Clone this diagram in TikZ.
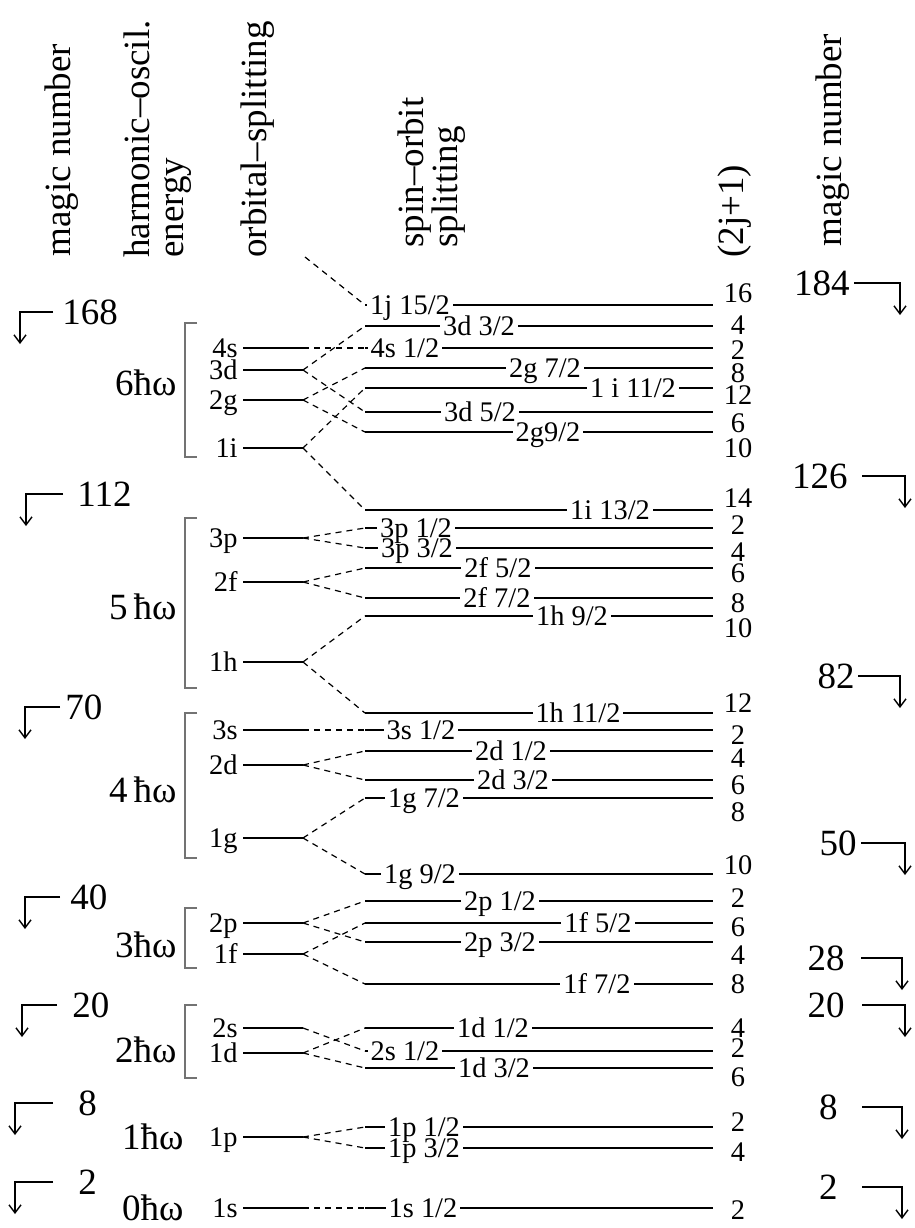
\documentclass[tikz,border=0pt]{standalone}
\usepackage{fontspec}
\setmainfont{Liberation Serif}
\usetikzlibrary{arrows.meta}

\begin{document}
\begin{tikzpicture}[x=0.5pt, y=-0.5pt, >={Straight Barb[length=4pt,width=6pt]},
    big/.style={font=\fontsize{18.5}{17}\selectfont, inner sep=0pt},
    small/.style={font=\fontsize{14.2}{16}\selectfont, inner sep=0pt},
    head/.style={big, rotate=90, anchor=west, align=left},
    lab/.style={small, fill=white, inner xsep=1.5pt, inner ysep=0pt, text depth=0pt, anchor=base, yshift=-4.7pt},
    level/.style={line width=0.9pt},
    split/.style={line width=0.6pt, dash pattern=on 3pt off 2.5pt},
    brack/.style={draw=black!55, line width=1pt},
    marrow/.style={->, line width=0.7pt}]
  \fill[white] (0,0) rectangle (915,1228);
  \useasboundingbox (0,0) rectangle (915,1228);
  % ================================================================ column heads
  \node[head] (hMagicL) at (62,257) {magic number};
  \node[head] (hOsc) at (158,258) {harmonic--oscil.\\energy};
  \node[head] (hOrb) at (258,258) {orbital--splitting};
  \node[head] (hSpin) at (432,248) {spin--orbit\\splitting};
  \node[head] (hDeg) at (735,258) {(2j+1)};
  \node[head] (hMagicR) at (833,247) {magic number};
  % ================================================================ oscillator shells
  \foreach \sh/\sy/\a/\b in {6ħω/383/323/457, 5\,ħω/607/518/688, 4\,ħω/790/713/858, 3ħω/945/908/968, 2ħω/1050/1005/1078} {
    \node[big, anchor=east] at (177,\sy) {\sh};
    \draw[brack] (197,\a) -- (185,\a) -- (185,\b) -- (197,\b);
  }
  \node[big, anchor=east] (sh1) at (184,1137) {1ħω};
  \node[big, anchor=east] (sh0) at (184,1208) {0ħω};
  % ================================================================ orbital levels
  \foreach \o/\oy in {4s/348, 3d/370, 2g/400, 1i/448, 3p/538, 2f/582, 1h/662, 3s/730, 2d/765, 1g/838,
                      2p/923, 1f/954, 2s/1028, 1d/1053, 1p/1137, 1s/1208} {
    \node[small, anchor=base east, yshift=-4.7pt] (t\o) at (238,\oy) {\o};
    \draw[level] (243,\oy) -- (303,\oy) coordinate (o\o);
  }
  \coordinate (o1j) at (305,257);
  % ================================================================ spin-orbit levels
  \foreach \lv/\ly/\lx/\lab/\dg/\dy in {
      1j15/305/410/{1j 15/2}/16/293, 3d3/326/479/{3d 3/2}/4/325, 4s1/348/405/{4s 1/2}/2/350,
      2g7/368/545/{2g 7/2}/8/373, 1i11/388/633/{1 i 11/2}/12/395, 3d5/412/480/{3d 5/2}/6/423,
      2g9/432/548/{2g9/2}/10/448,
      1i13/510/610/{1i 13/2}/14/498, 3p3/548/417/{3p 3/2}/4/552, 3p1/528/416/{3p 1/2}/2/525,
      2f5/568/498/{2f 5/2}/6/573, 2f7/598/497/{2f 7/2}/8/603, 1h9/616/572/{1h 9/2}/10/628,
      1h11/713/578/{1h 11/2}/12/703, 3s1/730/421/{3s 1/2}/2/735, 2d1/751/511/{2d 1/2}/4/758,
      2d3/780/513/{2d 3/2}/6/785, 1g7/798/424/{1g 7/2}/8/812, 1g9/874/420/{1g 9/2}/10/865,
      2p1/901/500/{2p 1/2}/2/898, 1f5/923/598/{1f 5/2}/6/927, 2p3/942/500/{2p 3/2}/4/955,
      1f7/984/597/{1f 7/2}/8/984,
      1d1/1028/493/{1d 1/2}/4/1028, 2s1/1051/405/{2s 1/2}/2/1048, 1d3/1068/494/{1d 3/2}/6/1077,
      1p3/1148/424/{1p 3/2}/4/1152, 1p1/1127/424/{1p 1/2}/2/1122, 1s1/1208/423/{1s 1/2}/2/1210} {
    \draw[level] (365,\ly) coordinate (l\lv) -- (713,\ly);
    \node[lab] (n\lv) at (\lx,\ly) {\lab};
    \node[small] (g\lv) at (738,\dy) {\dg};
  }
  % dashed splitting lines
  \foreach \a/\b in {1j/1j15, 3d/3d3, 3d/3d5, 4s/4s1, 2g/2g7, 2g/2g9, 1i/1i11, 1i/1i13,
                     3p/3p1, 3p/3p3, 2f/2f5, 2f/2f7, 1h/1h9, 1h/1h11,
                     3s/3s1, 2d/2d1, 2d/2d3, 1g/1g7, 1g/1g9,
                     2p/2p1, 2p/2p3, 1f/1f5, 1f/1f7, 2s/2s1, 1d/1d1, 1d/1d3,
                     1p/1p1, 1p/1p3, 1s/1s1}
    \draw[split] (o\a) -- (l\b);
  % ================================================================ magic numbers
  \foreach \m/\cx/\y/\nx/\gap in {168/20/312/62/9, 112/26/494/77/14, 70/25/707/65/5, 40/25/897/70/10,
                                  20/22/1005/72/15, 8/15/1103/78/25, 2/15/1182/78/25} {
    \node[big, anchor=west] (ml\m) at (\nx,\y) {\m};
    \coordinate (cl\m) at (\cx,\y);
    \draw[marrow] (ml\m.west) ++(-\gap,0) -- (cl\m) -- ++(0,32);
  }
  \foreach \m/\nx/\y/\cx/\gap in {184/850/283/900/4, 126/848/476/905/14, 82/855/676/900/3, 50/857/843/905/4,
                                  28/845/958/902/16, 20/845/1005/905/17, 8/838/1107/902/24, 2/838/1187/902/24} {
    \node[big, anchor=east] (mr\m) at (\nx,\y) {\m};
    \coordinate (cr\m) at (\cx,\y);
    \draw[marrow] (mr\m.east) ++(\gap,0) -- (cr\m) -- ++(0,32);
  }
\end{tikzpicture}
\end{document}
